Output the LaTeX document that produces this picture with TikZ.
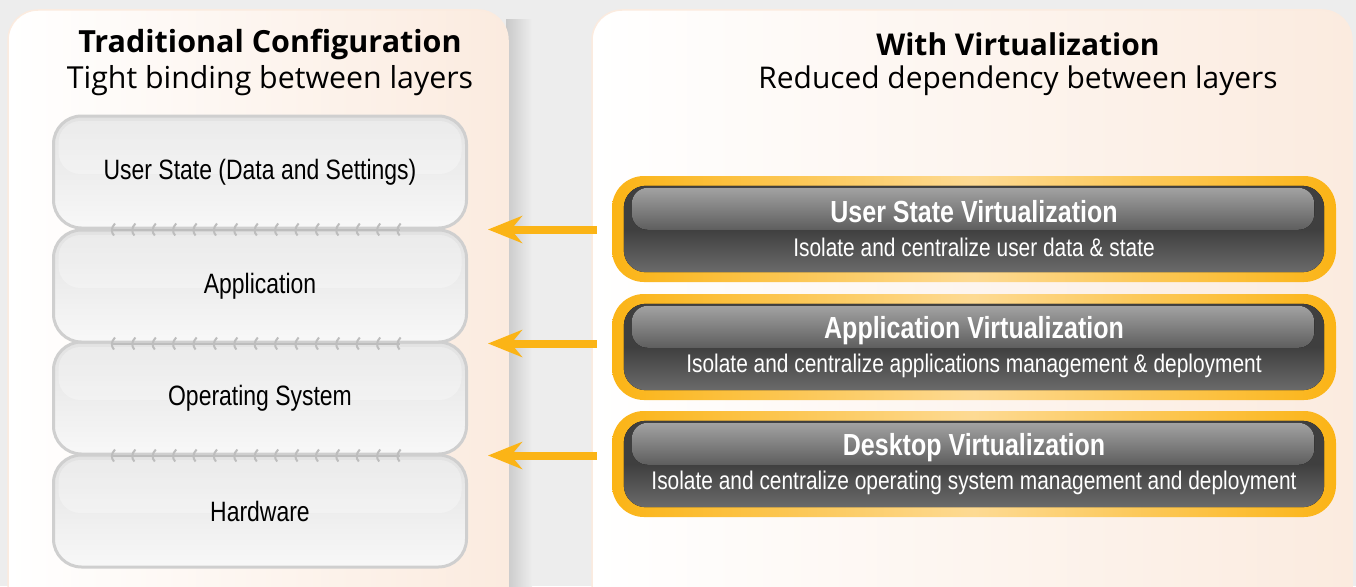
\documentclass[tikz,border=0pt]{standalone}
\usepackage{fontspec}
\setmainfont{Open Sans}
\newfontfamily\narrowfont[FakeStretch=0.82]{Liberation Sans}
\usetikzlibrary{arrows.meta}

\definecolor{bggrey}{HTML}{EDEDED}
\definecolor{peach}{HTML}{FBEBDF}
\definecolor{shade}{HTML}{C9C9C9}
\definecolor{layerline}{HTML}{CFCFCF}
\definecolor{hookline}{HTML}{BDBDBD}
\definecolor{layertop}{HTML}{E2E2E2}
\definecolor{layerbot}{HTML}{F8F8F8}
\definecolor{orng}{HTML}{FBB416}
\definecolor{orngl}{HTML}{FDDA93}
\definecolor{darkbox}{HTML}{3F3F3F}
\definecolor{darkbot}{HTML}{6A6A6A}
\definecolor{glosstop}{HTML}{A2A2A2}
\definecolor{glossbot}{HTML}{5E5E5E}

\tikzset{
  panel/.style={draw=peach, line width=1.5pt, rounded corners=30pt, left color=white, right color=peach},
  layer/.style={draw=layerline, line width=3pt, rounded corners=28pt, top color=layertop, bottom color=layerbot,
    minimum width=413pt, minimum height=112pt, font=\narrowfont\fontsize{28}{32}\selectfont,
    path picture={\fill[white, opacity=.3, rounded corners=22pt]
      ([xshift=5pt,yshift=-5pt]path picture bounding box.north west)
      rectangle ([xshift=-5pt,yshift=-58pt]path picture bounding box.north east);}},
  virt/.style={rounded corners=32pt, left color=orng, right color=orng, middle color=orngl,
    minimum width=724pt, minimum height=106pt},
  virttext/.style={text=white, align=center, font=\narrowfont\fontsize{25.5}{34}\selectfont},
  arr/.style={orng, line width=8pt, -{Stealth[length=34pt,width=27pt,inset=11pt]}},
  hook/.style={hookline, line width=2pt},
}

\begin{document}
\begin{tikzpicture}[x=1pt, y=-1pt]
  \useasboundingbox (0,0) rectangle (1356,586);
  \clip (0,0) rectangle (1356,586);
  \fill[bggrey] (0,0) rectangle (1356,586);

  % panels
  \fill[left color=shade, right color=bggrey] (506,20) rectangle (532,586);
  \path[panel] (8,10) rectangle (508,620);
  \path[panel] (592,10) rectangle (1352,620);

  \node[font=\bfseries\fontsize{30.5}{36}\selectfont] (ltitle) at (270,44) {Traditional Configuration};
  \node[font=\fontsize{30.3}{36}\selectfont] (lsub) at (270,81) {Tight binding between layers};
  \node[font=\bfseries\fontsize{30}{36}\selectfont] (rtitle) at (1018,44) {With Virtualization};
  \node[font=\fontsize{29.9}{36}\selectfont] (rsub) at (1018,81) {Reduced dependency between layers};

  % layers
  \begin{scope}[every node/.style={layer}]
    \node (hw) at (260,511) {Hardware};
    \node (os) at (260,398) {Operating System};
    \node (app) at (260,286) {Application};
    \node (us) at (260,172) {User State (Data and Settings)};
  \end{scope}

  % hooks between layers
  \foreach \l in {us,app,os} {
    \draw[hook] ([xshift=-148pt]\l.south) -- ([xshift=140pt]\l.south);
    \foreach \i in {0,...,14}
      \draw[hook] ([xshift={-145pt+\i*20.4pt},yshift=6pt]\l.south)
        .. controls ([xshift={-149pt+\i*20.4pt},yshift=2pt]\l.south)
        and ([xshift={-149pt+\i*20.4pt},yshift=-3pt]\l.south)
        .. ([xshift={-146pt+\i*20.4pt},yshift=-6pt]\l.south);
  }

  % virtualization boxes
  \begin{scope}[every node/.style={virt}]
    \node (uv) at (974,229) {};
    \node (av) at (974,347) {};
    \node (dv) at (974,464) {};
  \end{scope}
  \foreach \v in {uv,av,dv} {
    \fill[rounded corners=22pt, top color=darkbox, bottom color=darkbot, middle color=darkbox]
      ([xshift=12pt,yshift=-10pt]\v.north west) rectangle ([xshift=-12pt,yshift=10pt]\v.south east);
    \fill[rounded corners=16pt, top color=glosstop, bottom color=glossbot]
      ([xshift=20pt,yshift=-12pt]\v.north west) rectangle ([xshift=-22pt,yshift=-54pt]\v.north east);
  }
  \node[virttext] (uvt) at (uv) {{\bfseries\fontsize{30.5}{34}\selectfont User State Virtualization}\\Isolate and centralize user data \& state};
  \node[virttext] (avt) at (av) {{\bfseries\fontsize{30.5}{34}\selectfont Application Virtualization}\\Isolate and centralize applications management \& deployment};
  \node[virttext] (dvt) at (dv) {{\bfseries\fontsize{30.5}{34}\selectfont Desktop Virtualization}\\Isolate and centralize operating system management and deployment};

  % arrows
  \draw[arr] (uv.west |- us.south) ++(-15,0) -- ([xshift=20pt]us.south east);
  \draw[arr] (av.west |- app.south) ++(-15,0) -- ([xshift=20pt]app.south east);
  \draw[arr] (dv.west |- os.south) ++(-15,0) -- ([xshift=20pt]os.south east);
\end{tikzpicture}
\end{document}
